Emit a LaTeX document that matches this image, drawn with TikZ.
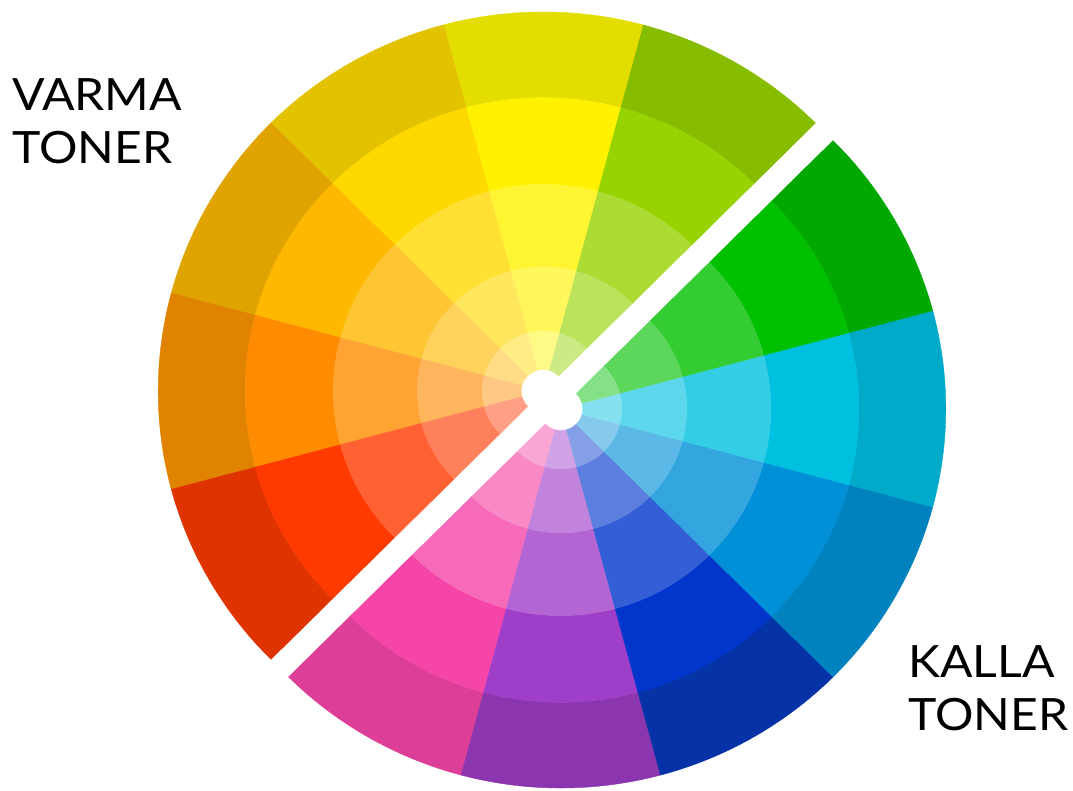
\documentclass[tikz,border=0pt]{standalone}
\usepackage{fontspec}
\setsansfont{Lato}[FakeStretch=1.08]
\usepackage{tikz}

\definecolor{wLime}{HTML}{97D300}   \definecolor{wLimeDk}{HTML}{86BD00}
\definecolor{wYellow}{HTML}{FFF200} \definecolor{wYellowDk}{HTML}{E4DE00}
\definecolor{wGold}{HTML}{FFD800}   \definecolor{wGoldDk}{HTML}{E3C200}
\definecolor{wAmber}{HTML}{FFB800}  \definecolor{wAmberDk}{HTML}{E0A400}
\definecolor{wOrange}{HTML}{FF8C00} \definecolor{wOrangeDk}{HTML}{E08300}
\definecolor{wRed}{HTML}{FF3A00}    \definecolor{wRedDk}{HTML}{E03400}
\definecolor{wPink}{HTML}{F545A8}   \definecolor{wPinkDk}{HTML}{DD3F98}
\definecolor{wPurple}{HTML}{9F3EC8} \definecolor{wPurpleDk}{HTML}{8B36AF}
\definecolor{wBlue}{HTML}{0036CC}   \definecolor{wBlueDk}{HTML}{0632A8}
\definecolor{wAzure}{HTML}{0090D8}  \definecolor{wAzureDk}{HTML}{0082BE}
\definecolor{wCyan}{HTML}{00C0E0}   \definecolor{wCyanDk}{HTML}{00AAC8}
\definecolor{wGreen}{HTML}{00C000}  \definecolor{wGreenDk}{HTML}{00A800}

% one ring piece: start angle, end angle, outer radius, inner radius, colour
\newcommand{\ringpiece}[5]{%
  \filldraw[fill=#5, draw=#5, line width=.4pt] (#1:#3) arc[start angle=#1, end angle=#2, radius=#3]
    -- (#2:#4) arc[start angle=#2, end angle=#1, radius=#4] -- cycle;}

% five rings of one hue, dark outside and paler inwards
\newcommand{\hueslice}[2]{%
  \pgfmathsetmacro\angA{#1-15}\pgfmathsetmacro\angB{#1+15}%
  \ringpiece{\angA}{\angB}{385}{298}{#2Dk}
  \ringpiece{\angA}{\angB}{298}{210}{#2}
  \ringpiece{\angA}{\angB}{210}{126}{#2!80!white}
  \ringpiece{\angA}{\angB}{126}{61}{#2!64!white}
  \ringpiece{\angA}{\angB}{61}{22}{#2!48!white}}

\tikzset{
  tone label/.style={font=\sffamily\fontsize{44.5}{53}\selectfont, align=left, inner sep=0pt, anchor=north west}
}

\begin{document}
\begin{tikzpicture}[x=1pt, y=1pt]
  \path[fill=white, use as bounding box] (0,0) rectangle (1073,791);

  % warm half
  \begin{scope}[shift={(543.2,399.8)}, yscale=.985]
    \foreach \ang/\hue in {60/wLime, 90/wYellow, 120/wGold, 150/wAmber, 180/wOrange, 210/wRed}
      {\hueslice{\ang}{\hue}}
  \end{scope}

  % cold half
  \begin{scope}[shift={(560.8,382.2)}, yscale=.985]
    \foreach \ang/\hue in {240/wPink, 270/wPurple, 300/wBlue, 330/wAzure, 360/wCyan, 390/wGreen}
      {\hueslice{\ang}{\hue}}
  \end{scope}

  \node[tone label] (warm) at (12,713) {VARMA\\TONER};
  \node[tone label] (cold) at (908,146) {KALLA\\TONER};
\end{tikzpicture}
\end{document}
